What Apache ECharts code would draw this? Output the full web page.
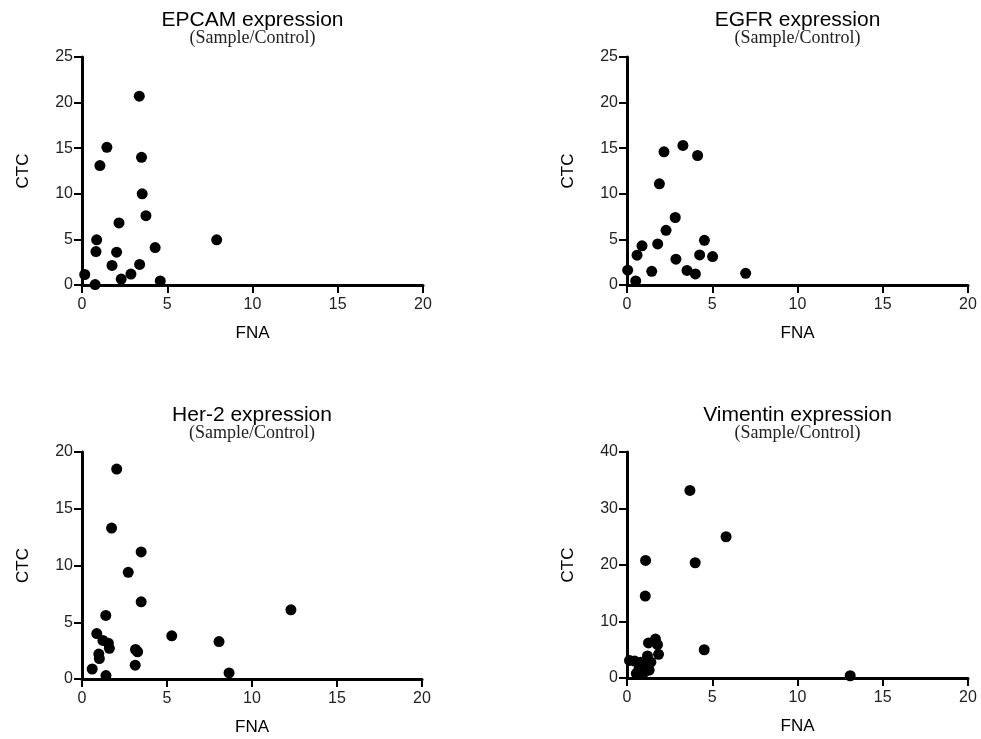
<!DOCTYPE html>
<html>
<head>
<meta charset="utf-8">
<script src="https://cdn.jsdelivr.net/npm/echarts@6/dist/echarts.min.js"></script>
<style>
  html, body { margin: 0; padding: 0; background: #fff; }
  #chart { width: 981px; height: 739px; }
</style>
</head>
<body>
<div id="chart"></div>
<script>
// Marker expression (sample/control): FNA on x, CTC on y
const panelTitles = ['EPCAM expression', 'EGFR expression', 'Her-2 expression', 'Vimentin expression'];
const subTitle = '(Sample/Control)';
const xAxisName = 'FNA';
const yAxisName = 'CTC';

const xMax = 20;
const xStep = 5;
const yMaxes = [25, 25, 20, 40];
const ySteps = [5, 5, 5, 10];

const epcamFna = [3.36, 1.46, 1.05, 3.49, 3.53, 3.75, 2.17, 0.86, 0.82, 2.03, 1.76, 3.38, 2.87, 2.30, 4.29, 4.59, 0.16, 0.77, 7.90];
const epcamCtc = [20.7, 15.1, 13.1, 14.0, 10.0, 7.6, 6.8, 4.95, 3.67, 3.6, 2.15, 2.25, 1.2, 0.65, 4.1, 0.44, 1.15, 0.05, 4.95];

const egfrFna = [3.28, 2.17, 4.14, 1.90, 2.83, 2.29, 1.80, 4.54, 0.88, 0.59, 2.87, 4.26, 5.02, 1.45, 3.52, 4.01, 0.04, 0.51, 6.96];
const egfrCtc = [15.3, 14.6, 14.2, 11.1, 7.4, 6.0, 4.5, 4.9, 4.3, 3.27, 2.83, 3.3, 3.12, 1.5, 1.6, 1.21, 1.62, 0.45, 1.28];

const her2Fna = [2.04, 1.74, 3.48, 2.72, 3.48, 1.40, 12.29, 5.28, 8.06, 0.87, 1.23, 1.55, 1.61, 0.99, 1.02, 3.15, 3.27, 3.13, 0.60, 1.41, 8.65];
const her2Ctc = [18.5, 13.3, 11.2, 9.4, 6.8, 5.6, 6.1, 3.8, 3.3, 4.0, 3.4, 3.15, 2.7, 2.2, 1.8, 2.6, 2.4, 1.22, 0.88, 0.3, 0.53];

const vimentinFna = [3.69, 5.81, 4.00, 1.09, 1.07, 4.53, 13.09, 1.26, 1.67, 1.79, 1.85, 0.15, 0.45, 0.80, 1.20, 1.00, 1.40, 0.70, 0.55, 0.90, 1.30, 1.10];
const vimentinCtc = [33.2, 25.0, 20.4, 20.8, 14.5, 5.0, 0.4, 6.2, 6.9, 5.9, 4.2, 3.1, 3.0, 2.8, 3.9, 2.5, 2.8, 1.6, 0.8, 0.6, 1.4, 1.2];

const fnaSets = [epcamFna, egfrFna, her2Fna, vimentinFna];
const ctcSets = [epcamCtc, egfrCtc, her2Ctc, vimentinCtc];

// plot frames: left, top, width, height (px)
const frames = [
  [82, 57, 341, 228],
  [627, 57, 341, 228],
  [82, 452, 340, 227],
  [627, 452, 341, 226]
];

const sans = '"Liberation Sans", Arial, sans-serif';
const serif = '"Liberation Serif", "Times New Roman", serif';
const ink = '#000';
const tickInk = '#222';

const grid = [], xAxis = [], yAxis = [], series = [], graphic = [];

frames.forEach(function (f, i) {
  grid.push({ left: f[0], top: f[1], width: f[2], height: f[3], containLabel: false });

  const axisLine = { show: true, onZero: false, lineStyle: { color: ink, width: 3 } };
  const axisTick = { show: true, length: 8, lineStyle: { color: ink, width: 2 } };

  xAxis.push({
    type: 'value', gridIndex: i, min: 0, max: xMax, interval: xStep,
    axisLine: axisLine, axisTick: axisTick, splitLine: { show: false },
    axisLabel: { color: tickInk, fontSize: 16, fontFamily: sans, margin: 12 },
    name: xAxisName, nameLocation: 'middle', nameGap: 40,
    nameTextStyle: { color: ink, fontSize: 17, fontFamily: sans }
  });
  yAxis.push({
    type: 'value', gridIndex: i, min: 0, max: yMaxes[i], interval: ySteps[i],
    axisLine: axisLine, axisTick: axisTick, splitLine: { show: false },
    axisLabel: { color: tickInk, fontSize: 16, fontFamily: sans, margin: 9 },
    name: yAxisName, nameLocation: 'middle', nameGap: 50, nameRotate: 90,
    nameTextStyle: { color: ink, fontSize: 17, fontFamily: sans }
  });

  series.push({
    type: 'scatter', xAxisIndex: i, yAxisIndex: i,
    symbol: 'circle', symbolSize: 11,
    itemStyle: { color: ink, opacity: 1 },
    data: fnaSets[i].map(function (x, k) { return [x, ctcSets[i][k]]; }),
    silent: true
  });

  const cx = f[0] + f[2] / 2;
  graphic.push({
    type: 'text', x: cx, y: f[1] - 37,
    style: { text: panelTitles[i], fill: ink, fontSize: 21, fontFamily: sans, align: 'center', verticalAlign: 'middle' }
  });
  graphic.push({
    type: 'text', x: cx, y: f[1] - 19,
    style: { text: subTitle, fill: '#222', fontSize: 18, fontFamily: serif, align: 'center', verticalAlign: 'middle' }
  });
});

const chart = echarts.init(document.getElementById('chart'), null, { renderer: 'canvas' });
chart.setOption({
  animation: false,
  backgroundColor: '#fff',
  grid: grid,
  xAxis: xAxis,
  yAxis: yAxis,
  series: series,
  graphic: graphic
});
</script>
</body>
</html>
